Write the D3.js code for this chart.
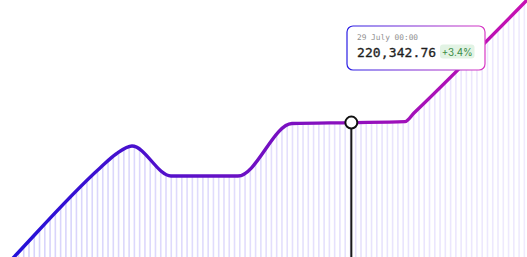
<!DOCTYPE html>
<html>
<head>
<meta charset="utf-8">
<script src="https://cdn.jsdelivr.net/npm/d3@7"></script>
<style>
  html, body { margin: 0; padding: 0; background: #fff; overflow: hidden; }
  svg { display: block; }
</style>
</head>
<body>
<svg id="chart" width="527" height="257"></svg>
<script>
// ---- data (day offset from 29 June, value) ----
const days   = [0, 1.2, 8.54, 9.91, 11.27, 14.6, 20.32, 24.93, 30, 34.58, 35.35, 45];
const values = [173830, 178500, 206200, 210560, 213050, 203720, 203720, 220060, 220342.76, 220650, 223330, 258500];
const hoverIndex = 8;
const hoverLabel = "29 July 00:00";
const hoverValueLabel = "220,342.76";
const hoverChangeLabel = "+3.4%";
const stripeCount = 100;

const W = 527, H = 257;
const svg = d3.select("#chart");
const data = days.map((d, i) => ({ d, v: values[i] }));

const x = d3.scaleLinear().domain([0, 45]).range([0, W]);
const y = d3.scaleLinear().domain([178500, 258500]).range([H, 0]);

const defs = svg.append("defs");

const lg = defs.append("linearGradient").attr("id", "lineGrad")
  .attr("gradientUnits", "userSpaceOnUse").attr("x1", 0).attr("x2", W).attr("y1", 0).attr("y2", 0);
lg.append("stop").attr("offset", "0%").attr("stop-color", "#1e10da");
lg.append("stop").attr("offset", "45%").attr("stop-color", "#6a10c4");
lg.append("stop").attr("offset", "100%").attr("stop-color", "#c810b2");

const bg = defs.append("linearGradient").attr("id", "boxGrad")
  .attr("x1", "0%").attr("x2", "100%").attr("y1", "0%").attr("y2", "0%");
bg.append("stop").attr("offset", "0%").attr("stop-color", "#2a1ee4");
bg.append("stop").attr("offset", "100%").attr("stop-color", "#d838c4");

const curve = d3.curveMonotoneX;
const area = d3.area().x(p => x(p.d)).y0(H + 5).y1(p => y(p.v)).curve(curve);
const line = d3.line().x(p => x(p.d)).y(p => y(p.v)).curve(curve);

defs.append("clipPath").attr("id", "areaClip")
  .append("path").attr("d", area(data));

// vertical stripes under the curve
const sx = d3.scaleBand().domain(d3.range(stripeCount)).range([0, W]);
const stripeColor = d3.scaleLinear().domain([0, W]).range(["#d6d2fb", "#efeafd"]);
svg.append("g").attr("clip-path", "url(#areaClip)")
  .selectAll("rect").data(d3.range(stripeCount)).join("rect")
  .attr("x", i => sx(i) + sx.bandwidth() / 2 - 0.8)
  .attr("y", 0)
  .attr("width", 1.6)
  .attr("height", H)
  .attr("fill", i => stripeColor(sx(i)));

// main line
svg.append("path").attr("d", line(data))
  .attr("fill", "none").attr("stroke", "url(#lineGrad)")
  .attr("stroke-width", 3.4).attr("stroke-linejoin", "round").attr("stroke-linecap", "round");

// hover marker
const hp = data[hoverIndex];
const hx = x(hp.d), hy = y(hp.v);
svg.append("line").attr("x1", hx).attr("x2", hx).attr("y1", hy).attr("y2", H)
  .attr("stroke", "#1a1a1a").attr("stroke-width", 2);
svg.append("circle").attr("cx", hx).attr("cy", hy).attr("r", 6)
  .attr("fill", "#fff").attr("stroke", "#111").attr("stroke-width", 2);

// tooltip
const tip = svg.append("g").attr("transform", "translate(347,26)");
tip.append("rect").attr("x", 0).attr("y", 0).attr("width", 138).attr("height", 44)
  .attr("rx", 6).attr("fill", "#fff").attr("stroke", "url(#boxGrad)").attr("stroke-width", 1.2);
tip.append("text").attr("x", 10).attr("y", 14).text(hoverLabel)
  .attr("font-family", "DejaVu Sans Mono, Liberation Mono, monospace")
  .attr("font-size", 7.8).attr("fill", "#8f8f8f");
tip.append("text").attr("x", 10).attr("y", 30.5).text(hoverValueLabel)
  .attr("font-family", "DejaVu Sans Mono, Liberation Mono, monospace")
  .attr("font-size", 13).attr("letter-spacing", 0.1)
  .attr("fill", "#1e1e1e").attr("stroke", "#1e1e1e").attr("stroke-width", 0.3);
tip.append("rect").attr("x", 93).attr("y", 18.5).attr("width", 34.5).attr("height", 14)
  .attr("rx", 3).attr("fill", "#e2f3e4");
tip.append("text").attr("x", 110.2).attr("y", 29.6).attr("text-anchor", "middle").text(hoverChangeLabel)
  .attr("font-family", "Inter, Roboto, sans-serif")
  .attr("font-size", 9.8).attr("fill", "#3c8c46");
</script>
</body>
</html>
